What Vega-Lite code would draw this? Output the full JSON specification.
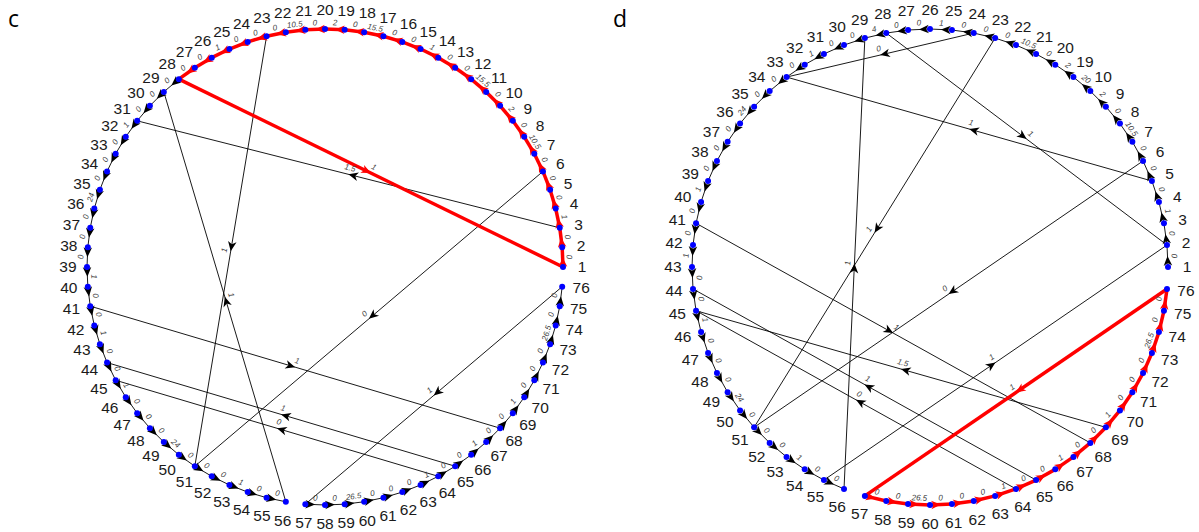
{
  "$schema": "https://vega.github.io/schema/vega-lite/v6.json",
  "padding": 0,
  "background": "white",
  "bounds": "flush",
  "spacing": 5,
  "config": {"view": {"stroke": null}, "axis": {"disable": true}},
  "datasets": {
    "nodesC": [
      {"id":1,"deg":0},{"id":2,"deg":4.74},{"id":3,"deg":9.47},{"id":4,"deg":14.21},{"id":5,"deg":18.95},
      {"id":6,"deg":23.68},{"id":7,"deg":28.42},{"id":8,"deg":33.16},{"id":9,"deg":37.89},{"id":10,"deg":42.63},
      {"id":11,"deg":47.37},{"id":12,"deg":52.11},{"id":13,"deg":56.84},{"id":14,"deg":61.58},{"id":15,"deg":66.32},
      {"id":16,"deg":71.05},{"id":17,"deg":75.79},{"id":18,"deg":80.53},{"id":19,"deg":85.26},{"id":20,"deg":90},
      {"id":21,"deg":94.74},{"id":22,"deg":99.47},{"id":23,"deg":104.21},{"id":24,"deg":108.95},{"id":25,"deg":113.68},
      {"id":26,"deg":118.42},{"id":27,"deg":123.16},{"id":28,"deg":127.89},{"id":29,"deg":132.63},{"id":30,"deg":137.37},
      {"id":31,"deg":142.11},{"id":32,"deg":146.84},{"id":33,"deg":151.58},{"id":34,"deg":156.32},{"id":35,"deg":161.05},
      {"id":36,"deg":165.79},{"id":37,"deg":170.53},{"id":38,"deg":175.26},{"id":39,"deg":180},{"id":40,"deg":184.74},
      {"id":41,"deg":189.47},{"id":42,"deg":194.21},{"id":43,"deg":198.95},{"id":44,"deg":203.68},{"id":45,"deg":208.42},
      {"id":46,"deg":213.16},{"id":47,"deg":217.89},{"id":48,"deg":222.63},{"id":49,"deg":227.37},{"id":50,"deg":232.11},
      {"id":51,"deg":236.84},{"id":52,"deg":241.58},{"id":53,"deg":246.32},{"id":54,"deg":251.05},{"id":55,"deg":255.79},
      {"id":56,"deg":260.53},{"id":57,"deg":265.26},{"id":58,"deg":270},{"id":59,"deg":274.74},{"id":60,"deg":279.47},
      {"id":61,"deg":284.21},{"id":62,"deg":288.95},{"id":63,"deg":293.68},{"id":64,"deg":298.42},{"id":65,"deg":303.16},
      {"id":66,"deg":307.89},{"id":67,"deg":312.63},{"id":68,"deg":317.37},{"id":69,"deg":322.11},{"id":70,"deg":326.84},
      {"id":71,"deg":331.58},{"id":72,"deg":336.32},{"id":73,"deg":341.05},{"id":74,"deg":345.79},{"id":75,"deg":350.53},
      {"id":76,"deg":355.26}
    ],
    "edgesC": [
      {"s":28,"t":29,"w":0,"c":0},{"s":29,"t":30,"w":0,"c":0},{"s":30,"t":31,"w":0,"c":0},{"s":31,"t":32,"w":1,"c":0},
      {"s":32,"t":33,"w":0,"c":0},{"s":33,"t":34,"w":0,"c":0},{"s":34,"t":35,"w":0,"c":0},{"s":35,"t":36,"w":24,"c":0},
      {"s":36,"t":37,"w":0,"c":0},{"s":37,"t":38,"w":0,"c":0},{"s":38,"t":39,"w":0,"c":0},{"s":39,"t":40,"w":1,"c":0},
      {"s":40,"t":41,"w":0,"c":0},{"s":41,"t":42,"w":0,"c":0},{"s":42,"t":43,"w":1,"c":0},{"s":43,"t":44,"w":0,"c":0},
      {"s":44,"t":45,"w":0,"c":0},{"s":45,"t":46,"w":1,"c":0},{"s":46,"t":47,"w":0,"c":0},{"s":47,"t":48,"w":0,"c":0},
      {"s":48,"t":49,"w":0,"c":0},{"s":49,"t":50,"w":24,"c":0},{"s":50,"t":51,"w":0,"c":0},{"s":51,"t":52,"w":0,"c":0},
      {"s":52,"t":53,"w":0,"c":0},{"s":53,"t":54,"w":1,"c":0},{"s":54,"t":55,"w":0,"c":0},{"s":55,"t":56,"w":0,"c":0},
      {"s":57,"t":58,"w":0,"c":0},{"s":58,"t":59,"w":0,"c":0},{"s":59,"t":60,"w":26.5,"c":0},{"s":60,"t":61,"w":0,"c":0},
      {"s":61,"t":62,"w":0,"c":0},{"s":62,"t":63,"w":0,"c":0},{"s":63,"t":64,"w":1,"c":0},{"s":64,"t":65,"w":0,"c":0},
      {"s":65,"t":66,"w":0,"c":0},{"s":66,"t":67,"w":1,"c":0},{"s":67,"t":68,"w":0,"c":0},{"s":68,"t":69,"w":0,"c":0},
      {"s":69,"t":70,"w":1,"c":0},{"s":70,"t":71,"w":0,"c":0},{"s":71,"t":72,"w":0,"c":0},{"s":72,"t":73,"w":0,"c":0},
      {"s":73,"t":74,"w":26.5,"c":0},{"s":74,"t":75,"w":0,"c":0},{"s":75,"t":76,"w":0,"c":0},
      {"s":3,"t":31,"w":1.5,"c":0},{"s":23,"t":51,"w":1,"c":0},{"s":56,"t":29,"w":1,"c":0},{"s":6,"t":51,"w":0,"c":0},
      {"s":76,"t":57,"w":1,"c":0},{"s":41,"t":68,"w":1,"c":0},{"s":65,"t":44,"w":1,"c":0},{"s":64,"t":45,"w":0,"c":0},
      {"s":1,"t":2,"w":0,"c":1},{"s":2,"t":3,"w":0,"c":1},{"s":3,"t":4,"w":1,"c":1},{"s":4,"t":5,"w":0,"c":1},
      {"s":5,"t":6,"w":0,"c":1},{"s":6,"t":7,"w":0,"c":1},{"s":7,"t":8,"w":10.5,"c":1},{"s":8,"t":9,"w":0,"c":1},
      {"s":9,"t":10,"w":2,"c":1},{"s":10,"t":11,"w":0,"c":1},{"s":11,"t":12,"w":15.5,"c":1},{"s":12,"t":13,"w":0,"c":1},
      {"s":13,"t":14,"w":0,"c":1},{"s":14,"t":15,"w":1,"c":1},{"s":15,"t":16,"w":0,"c":1},{"s":16,"t":17,"w":0,"c":1},
      {"s":17,"t":18,"w":15.5,"c":1},{"s":18,"t":19,"w":0,"c":1},{"s":19,"t":20,"w":2,"c":1},{"s":20,"t":21,"w":0,"c":1},
      {"s":21,"t":22,"w":10.5,"c":1},{"s":22,"t":23,"w":0,"c":1},{"s":23,"t":24,"w":0,"c":1},{"s":24,"t":25,"w":0,"c":1},
      {"s":25,"t":26,"w":1,"c":1},{"s":26,"t":27,"w":0,"c":1},{"s":27,"t":28,"w":0,"c":1},{"s":28,"t":1,"w":1,"c":1}
    ],
    "nodesD": [
      {"id":1,"deg":0},{"id":2,"deg":5.29},{"id":3,"deg":10.59},{"id":4,"deg":15.88},{"id":5,"deg":21.18},
      {"id":6,"deg":26.47},{"id":7,"deg":31.76},{"id":8,"deg":37.06},{"id":9,"deg":42.35},{"id":10,"deg":47.65},
      {"id":19,"deg":52.94},{"id":20,"deg":58.24},{"id":21,"deg":63.53},{"id":22,"deg":68.82},{"id":23,"deg":74.12},
      {"id":24,"deg":79.41},{"id":25,"deg":84.71},{"id":26,"deg":90},{"id":27,"deg":95.29},{"id":28,"deg":100.59},
      {"id":29,"deg":105.88},{"id":30,"deg":111.18},{"id":31,"deg":116.47},{"id":32,"deg":121.76},{"id":33,"deg":127.06},
      {"id":34,"deg":132.35},{"id":35,"deg":137.65},{"id":36,"deg":142.94},{"id":37,"deg":148.24},{"id":38,"deg":153.53},
      {"id":39,"deg":158.82},{"id":40,"deg":164.12},{"id":41,"deg":169.41},{"id":42,"deg":174.71},{"id":43,"deg":180},
      {"id":44,"deg":185.29},{"id":45,"deg":190.59},{"id":46,"deg":195.88},{"id":47,"deg":201.18},{"id":48,"deg":206.47},
      {"id":49,"deg":211.76},{"id":50,"deg":217.06},{"id":51,"deg":222.35},{"id":52,"deg":227.65},{"id":53,"deg":232.94},
      {"id":54,"deg":238.24},{"id":55,"deg":243.53},{"id":56,"deg":248.82},{"id":57,"deg":254.12},{"id":58,"deg":259.41},
      {"id":59,"deg":264.71},{"id":60,"deg":270},{"id":61,"deg":275.29},{"id":62,"deg":280.59},{"id":63,"deg":285.88},
      {"id":64,"deg":291.18},{"id":65,"deg":296.47},{"id":66,"deg":301.76},{"id":67,"deg":307.06},{"id":68,"deg":312.35},
      {"id":69,"deg":317.65},{"id":70,"deg":322.94},{"id":71,"deg":328.24},{"id":72,"deg":333.53},{"id":73,"deg":338.82},
      {"id":74,"deg":344.12},{"id":75,"deg":349.41},{"id":76,"deg":354.71}
    ],
    "edgesD": [
      {"s":1,"t":2,"w":0,"c":0},{"s":2,"t":3,"w":0,"c":0},{"s":3,"t":4,"w":1,"c":0},{"s":4,"t":5,"w":0,"c":0},
      {"s":5,"t":6,"w":0,"c":0},{"s":6,"t":7,"w":0,"c":0},{"s":7,"t":8,"w":10.5,"c":0},{"s":8,"t":9,"w":0,"c":0},
      {"s":9,"t":10,"w":2,"c":0},{"s":10,"t":19,"w":20,"c":0},{"s":19,"t":20,"w":2,"c":0},{"s":20,"t":21,"w":0,"c":0},
      {"s":21,"t":22,"w":10.5,"c":0},{"s":22,"t":23,"w":0,"c":0},{"s":23,"t":24,"w":0,"c":0},{"s":24,"t":25,"w":0,"c":0},
      {"s":25,"t":26,"w":1,"c":0},{"s":26,"t":27,"w":0,"c":0},{"s":27,"t":28,"w":0,"c":0},{"s":28,"t":29,"w":4,"c":0},
      {"s":29,"t":30,"w":0,"c":0},{"s":30,"t":31,"w":0,"c":0},{"s":31,"t":32,"w":1,"c":0},{"s":32,"t":33,"w":0,"c":0},
      {"s":33,"t":34,"w":0,"c":0},{"s":34,"t":35,"w":0,"c":0},{"s":35,"t":36,"w":24,"c":0},{"s":36,"t":37,"w":0,"c":0},
      {"s":37,"t":38,"w":0,"c":0},{"s":38,"t":39,"w":0,"c":0},{"s":39,"t":40,"w":1,"c":0},{"s":40,"t":41,"w":0,"c":0},
      {"s":41,"t":42,"w":0,"c":0},{"s":42,"t":43,"w":1,"c":0},{"s":43,"t":44,"w":0,"c":0},{"s":44,"t":45,"w":0,"c":0},
      {"s":45,"t":46,"w":1,"c":0},{"s":46,"t":47,"w":0,"c":0},{"s":47,"t":48,"w":0,"c":0},{"s":48,"t":49,"w":0,"c":0},
      {"s":49,"t":50,"w":24,"c":0},{"s":50,"t":51,"w":0,"c":0},{"s":51,"t":52,"w":0,"c":0},{"s":52,"t":53,"w":0,"c":0},
      {"s":53,"t":54,"w":1,"c":0},{"s":54,"t":55,"w":0,"c":0},{"s":55,"t":56,"w":0,"c":0},
      {"s":24,"t":33,"w":0,"c":0},{"s":5,"t":33,"w":1,"c":0},{"s":28,"t":2,"w":1,"c":0},{"s":23,"t":51,"w":1,"c":0},
      {"s":56,"t":29,"w":1,"c":0},{"s":6,"t":51,"w":0,"c":0},{"s":55,"t":2,"w":1,"c":0},{"s":41,"t":68,"w":1,"c":0},
      {"s":65,"t":44,"w":1,"c":0},{"s":64,"t":45,"w":0,"c":0},{"s":69,"t":45,"w":1.5,"c":0},
      {"s":57,"t":58,"w":0,"c":1},{"s":58,"t":59,"w":0,"c":1},{"s":59,"t":60,"w":26.5,"c":1},{"s":60,"t":61,"w":0,"c":1},
      {"s":61,"t":62,"w":0,"c":1},{"s":62,"t":63,"w":0,"c":1},{"s":63,"t":64,"w":1,"c":1},{"s":64,"t":65,"w":0,"c":1},
      {"s":65,"t":66,"w":0,"c":1},{"s":66,"t":67,"w":1,"c":1},{"s":67,"t":68,"w":0,"c":1},{"s":68,"t":69,"w":0,"c":1},
      {"s":69,"t":70,"w":1,"c":1},{"s":70,"t":71,"w":0,"c":1},{"s":71,"t":72,"w":0,"c":1},{"s":72,"t":73,"w":0,"c":1},
      {"s":73,"t":74,"w":26.5,"c":1},{"s":74,"t":75,"w":0,"c":1},{"s":75,"t":76,"w":0,"c":1},{"s":76,"t":57,"w":1,"c":1}
    ]
  },
  "hconcat": [
    {
      "width": 600,
      "height": 532,
      "data": {"name": "edgesC"},
      "transform": [
        {"lookup": "s", "from": {"data": {"name": "nodesC"}, "key": "id", "fields": ["deg"]}, "as": ["a1"]},
        {"lookup": "t", "from": {"data": {"name": "nodesC"}, "key": "id", "fields": ["deg"]}, "as": ["a2"]},
        {"calculate": "cos(datum.a1*PI/180)", "as": "x1"},
        {"calculate": "sin(datum.a1*PI/180)", "as": "y1"},
        {"calculate": "cos(datum.a2*PI/180)", "as": "x2"},
        {"calculate": "sin(datum.a2*PI/180)", "as": "y2"},
        {"calculate": "(datum.x1+datum.x2)/2", "as": "mx"},
        {"calculate": "(datum.y1+datum.y2)/2", "as": "my"},
        {"calculate": "atan2(datum.y1-datum.y2, datum.x2-datum.x1)*180/PI", "as": "dir"},
        {"calculate": "datum.dir>90 ? datum.dir-180 : (datum.dir<=-90 ? datum.dir+180 : datum.dir)", "as": "tilt"}
      ],
      "layer": [
        {
          "transform": [{"filter": "datum.c==0"}],
          "mark": {"type": "rule", "color": "#000000", "strokeWidth": 0.9},
          "encoding": {
            "x": {"field": "x1", "type": "quantitative", "scale": {"domain": [-1.36555, 1.15546], "nice": false, "zero": false}},
            "y": {"field": "y1", "type": "quantitative", "scale": {"domain": [-1.11345, 1.12185], "nice": false, "zero": false}},
            "x2": {"field": "x2"},
            "y2": {"field": "y2"}
          }
        },
        {
          "transform": [{"filter": "datum.c==1"}],
          "mark": {"type": "rule", "color": "#ff0000", "strokeWidth": 3.5},
          "encoding": {
            "x": {"field": "x1", "type": "quantitative", "scale": {"domain": [-1.36555, 1.15546], "nice": false, "zero": false}},
            "y": {"field": "y1", "type": "quantitative", "scale": {"domain": [-1.11345, 1.12185], "nice": false, "zero": false}},
            "x2": {"field": "x2"},
            "y2": {"field": "y2"}
          }
        },
        {
          "mark": {"type": "point", "shape": "M0,0L-1,-0.44L-0.72,0L-1,0.44Z", "filled": true, "size": 380, "opacity": 1, "strokeWidth": 0},
          "encoding": {
            "x": {"field": "mx", "type": "quantitative", "scale": {"domain": [-1.36555, 1.15546], "nice": false, "zero": false}},
            "y": {"field": "my", "type": "quantitative", "scale": {"domain": [-1.11345, 1.12185], "nice": false, "zero": false}},
            "angle": {"field": "dir", "type": "quantitative", "scale": null},
            "color": {"condition": {"test": "datum.c==1", "value": "#ff0000"}, "value": "#000000"}
          }
        },
        {
          "data": {"name": "nodesC"},
          "transform": [
            {"calculate": "cos(datum.deg*PI/180)", "as": "x"},
            {"calculate": "sin(datum.deg*PI/180)", "as": "y"}
          ],
          "mark": {"type": "point", "shape": "circle", "filled": true, "size": 36, "color": "#0000ff", "opacity": 1},
          "encoding": {
            "x": {"field": "x", "type": "quantitative", "scale": {"domain": [-1.36555, 1.15546], "nice": false, "zero": false}},
            "y": {"field": "y", "type": "quantitative", "scale": {"domain": [-1.11345, 1.12185], "nice": false, "zero": false}}
          }
        },
        {
          "mark": {"type": "text", "font": "Liberation Sans", "fontSize": 8, "fontStyle": "italic", "color": "#404040", "dy": -6, "baseline": "middle", "align": "center"},
          "encoding": {
            "x": {"field": "mx", "type": "quantitative", "scale": {"domain": [-1.36555, 1.15546], "nice": false, "zero": false}},
            "y": {"field": "my", "type": "quantitative", "scale": {"domain": [-1.11345, 1.12185], "nice": false, "zero": false}},
            "angle": {"field": "tilt", "type": "quantitative", "scale": null},
            "text": {"field": "w", "type": "nominal"}
          }
        },
        {
          "data": {"name": "nodesC"},
          "transform": [
            {"calculate": "1.08*cos(datum.deg*PI/180)", "as": "lx"},
            {"calculate": "1.08*sin(datum.deg*PI/180)", "as": "ly"}
          ],
          "mark": {"type": "text", "font": "Liberation Sans", "fontSize": 15.5, "color": "#1a1a1a", "baseline": "middle", "align": "center"},
          "encoding": {
            "x": {"field": "lx", "type": "quantitative", "scale": {"domain": [-1.36555, 1.15546], "nice": false, "zero": false}},
            "y": {"field": "ly", "type": "quantitative", "scale": {"domain": [-1.11345, 1.12185], "nice": false, "zero": false}},
            "text": {"field": "id", "type": "nominal"}
          }
        },
        {
          "data": {"values": [{"panel": "c"}]},
          "mark": {"type": "text", "font": "Open Sans", "fontSize": 23, "color": "#000000", "align": "left", "baseline": "alphabetic"},
          "encoding": {
            "x": {"datum": -1.3319, "type": "quantitative", "scale": {"domain": [-1.36555, 1.15546], "nice": false, "zero": false}},
            "y": {"datum": 1.0084, "type": "quantitative", "scale": {"domain": [-1.11345, 1.12185], "nice": false, "zero": false}},
            "text": {"field": "panel", "type": "nominal"}
          }
        }
      ]
    },
    {
      "width": 594,
      "height": 532,
      "data": {"name": "edgesD"},
      "transform": [
        {"lookup": "s", "from": {"data": {"name": "nodesD"}, "key": "id", "fields": ["deg"]}, "as": ["a1"]},
        {"lookup": "t", "from": {"data": {"name": "nodesD"}, "key": "id", "fields": ["deg"]}, "as": ["a2"]},
        {"calculate": "cos(datum.a1*PI/180)", "as": "x1"},
        {"calculate": "sin(datum.a1*PI/180)", "as": "y1"},
        {"calculate": "cos(datum.a2*PI/180)", "as": "x2"},
        {"calculate": "sin(datum.a2*PI/180)", "as": "y2"},
        {"calculate": "(datum.x1+datum.x2)/2", "as": "mx"},
        {"calculate": "(datum.y1+datum.y2)/2", "as": "my"},
        {"calculate": "atan2(datum.y1-datum.y2, datum.x2-datum.x1)*180/PI", "as": "dir"},
        {"calculate": "datum.dir>90 ? datum.dir-180 : (datum.dir<=-90 ? datum.dir+180 : datum.dir)", "as": "tilt"}
      ],
      "layer": [
        {
          "transform": [{"filter": "datum.c==0"}],
          "mark": {"type": "rule", "color": "#000000", "strokeWidth": 0.9},
          "encoding": {
            "x": {"field": "x1", "type": "quantitative", "scale": {"domain": [-1.36555, 1.13025], "nice": false, "zero": false}},
            "y": {"field": "y1", "type": "quantitative", "scale": {"domain": [-1.11345, 1.12185], "nice": false, "zero": false}},
            "x2": {"field": "x2"},
            "y2": {"field": "y2"}
          }
        },
        {
          "transform": [{"filter": "datum.c==1"}],
          "mark": {"type": "rule", "color": "#ff0000", "strokeWidth": 3.5},
          "encoding": {
            "x": {"field": "x1", "type": "quantitative", "scale": {"domain": [-1.36555, 1.13025], "nice": false, "zero": false}},
            "y": {"field": "y1", "type": "quantitative", "scale": {"domain": [-1.11345, 1.12185], "nice": false, "zero": false}},
            "x2": {"field": "x2"},
            "y2": {"field": "y2"}
          }
        },
        {
          "mark": {"type": "point", "shape": "M0,0L-1,-0.44L-0.72,0L-1,0.44Z", "filled": true, "size": 380, "opacity": 1, "strokeWidth": 0},
          "encoding": {
            "x": {"field": "mx", "type": "quantitative", "scale": {"domain": [-1.36555, 1.13025], "nice": false, "zero": false}},
            "y": {"field": "my", "type": "quantitative", "scale": {"domain": [-1.11345, 1.12185], "nice": false, "zero": false}},
            "angle": {"field": "dir", "type": "quantitative", "scale": null},
            "color": {"condition": {"test": "datum.c==1", "value": "#ff0000"}, "value": "#000000"}
          }
        },
        {
          "data": {"name": "nodesD"},
          "transform": [
            {"calculate": "cos(datum.deg*PI/180)", "as": "x"},
            {"calculate": "sin(datum.deg*PI/180)", "as": "y"}
          ],
          "mark": {"type": "point", "shape": "circle", "filled": true, "size": 36, "color": "#0000ff", "opacity": 1},
          "encoding": {
            "x": {"field": "x", "type": "quantitative", "scale": {"domain": [-1.36555, 1.13025], "nice": false, "zero": false}},
            "y": {"field": "y", "type": "quantitative", "scale": {"domain": [-1.11345, 1.12185], "nice": false, "zero": false}}
          }
        },
        {
          "mark": {"type": "text", "font": "Liberation Sans", "fontSize": 8, "fontStyle": "italic", "color": "#404040", "dy": -6, "baseline": "middle", "align": "center"},
          "encoding": {
            "x": {"field": "mx", "type": "quantitative", "scale": {"domain": [-1.36555, 1.13025], "nice": false, "zero": false}},
            "y": {"field": "my", "type": "quantitative", "scale": {"domain": [-1.11345, 1.12185], "nice": false, "zero": false}},
            "angle": {"field": "tilt", "type": "quantitative", "scale": null},
            "text": {"field": "w", "type": "nominal"}
          }
        },
        {
          "data": {"name": "nodesD"},
          "transform": [
            {"calculate": "1.08*cos(datum.deg*PI/180)", "as": "lx"},
            {"calculate": "1.08*sin(datum.deg*PI/180)", "as": "ly"}
          ],
          "mark": {"type": "text", "font": "Liberation Sans", "fontSize": 15.5, "color": "#1a1a1a", "baseline": "middle", "align": "center"},
          "encoding": {
            "x": {"field": "lx", "type": "quantitative", "scale": {"domain": [-1.36555, 1.13025], "nice": false, "zero": false}},
            "y": {"field": "ly", "type": "quantitative", "scale": {"domain": [-1.11345, 1.12185], "nice": false, "zero": false}},
            "text": {"field": "id", "type": "nominal"}
          }
        },
        {
          "data": {"values": [{"panel": "d"}]},
          "mark": {"type": "text", "font": "Open Sans", "fontSize": 23, "color": "#000000", "align": "left", "baseline": "alphabetic"},
          "encoding": {
            "x": {"datum": -1.3319, "type": "quantitative", "scale": {"domain": [-1.36555, 1.13025], "nice": false, "zero": false}},
            "y": {"datum": 1.0084, "type": "quantitative", "scale": {"domain": [-1.11345, 1.12185], "nice": false, "zero": false}},
            "text": {"field": "panel", "type": "nominal"}
          }
        }
      ]
    }
  ]
}
